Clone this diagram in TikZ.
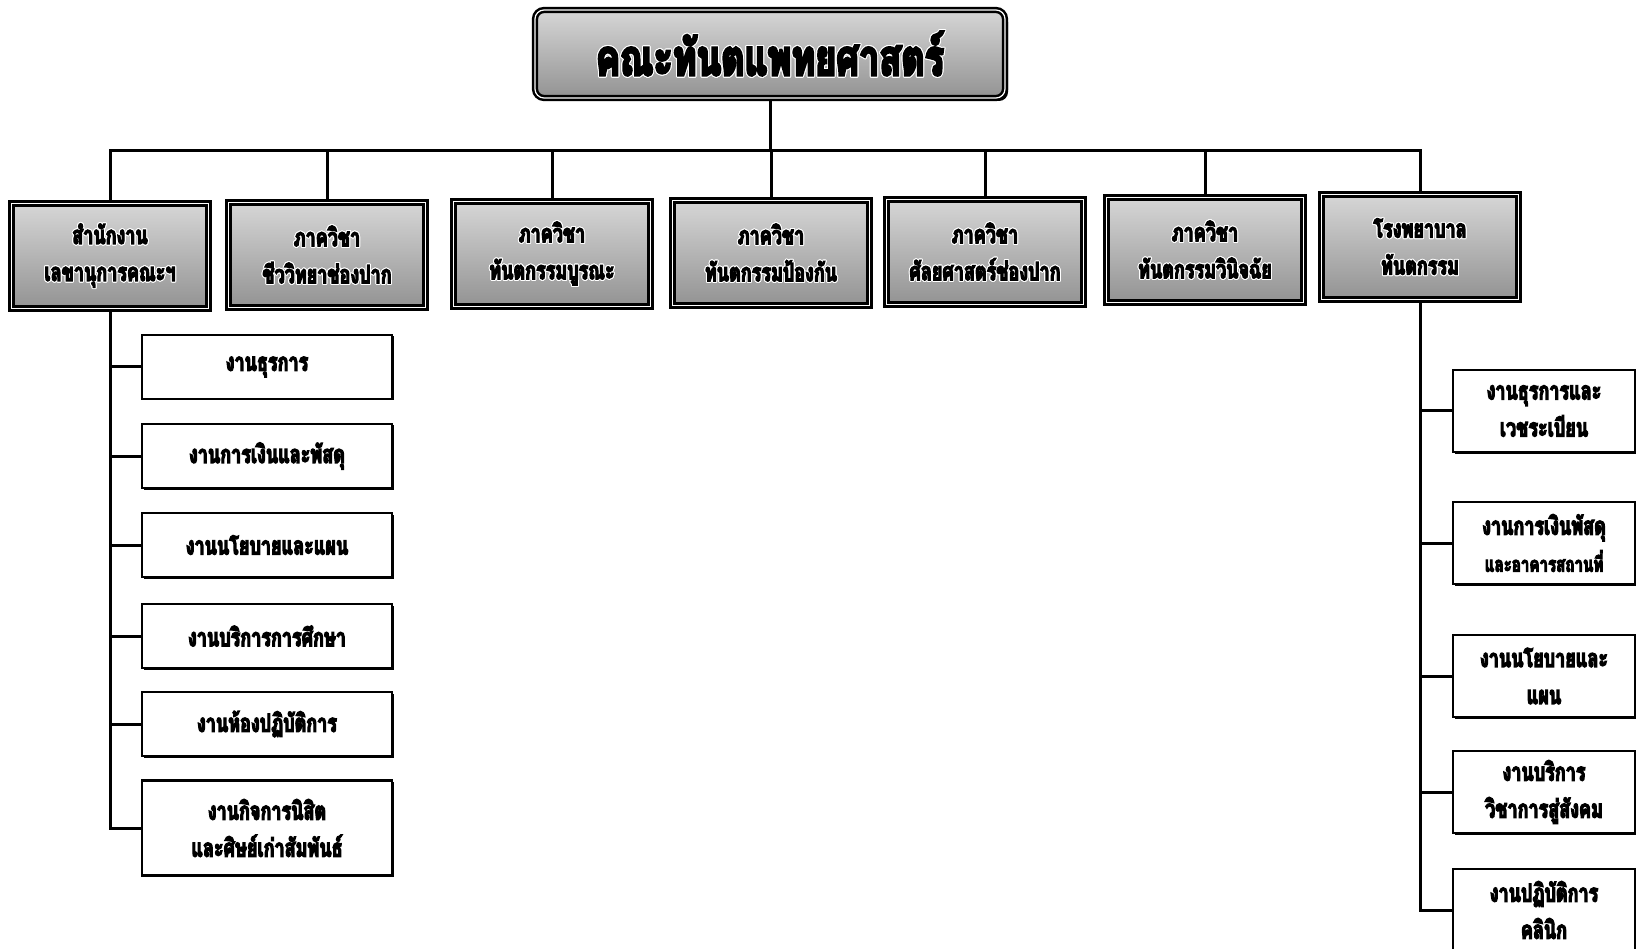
\documentclass[tikz,border=0pt]{standalone}
\usepackage{fontspec}
\newfontfamily\thai[Script=Thai,FakeStretch=0.72,FakeBold=5]{Loma Bold}
\usepackage[copies]{contour}
\contourlength{1pt}
\newcommand{\halo}[1]{\contour{white}{#1}}
\usetikzlibrary{shadows}
\begin{document}
\begin{tikzpicture}[x=1pt,y=-1pt,
  conn/.style={line width=3pt, draw=black},
  headbox/.style={rectangle, draw=black, line width=2.5pt, double=white, double distance=1.2pt,
    top color=gray!32, bottom color=gray!85, align=center, inner sep=0pt,
    drop shadow={shadow xshift=3pt, shadow yshift=-3pt, fill=black, opacity=1}},
  titlebox/.style={headbox, rounded corners=9pt, minimum width=470pt, minimum height=88pt,
    font=\thai\fontsize{50}{56}\selectfont},
  deptbox/.style={headbox, minimum width=197pt, minimum height=105pt,
    font=\thai\fontsize{25}{37}\selectfont},
  subbox/.style={rectangle, draw=black, line width=2.4pt, fill=white, align=center, inner sep=0pt,
    drop shadow={shadow xshift=1.5pt, shadow yshift=-1.5pt, fill=black, opacity=1},
    font=\thai\fontsize{25}{37}\selectfont},
  leftbox/.style={subbox, minimum width=250pt, minimum height=64pt},
  rightbox/.style={subbox, minimum width=182pt, minimum height=82pt}
]
\useasboundingbox (0,0) rectangle (1636,949);
\clip (0,0) rectangle (1636,949);

% top
\node[titlebox] (top) at (770,54) {\halo{คณะทันตแพทยศาสตร์}};

% departments
\node[deptbox] (b1) at (110,256) {\halo{สำนักงาน}\\\halo{เลขานุการคณะฯ}};
\node[deptbox] (b2) at (327,255) {\halo{ภาควิชา}\\\halo{ชีววิทยาช่องปาก}};
\node[deptbox] (b3) at (552,254) {\halo{ภาควิชา}\\\halo{ทันตกรรมบูรณะ}};
\node[deptbox] (b4) at (771,253) {\halo{ภาควิชา}\\\halo{ทันตกรรมป้องกัน}};
\node[deptbox] (b5) at (985,252) {\halo{ภาควิชา}\\\halo{ศัลยศาสตร์ช่องปาก}};
\node[deptbox] (b6) at (1205,250) {\halo{ภาควิชา}\\\halo{ทันตกรรมวินิจฉัย}};
\node[deptbox] (b7) at (1420,247) {\halo{โรงพยาบาล}\\\halo{ทันตกรรม}};

% left sub units
\node[leftbox] (l1) at (267,367) {งานธุรการ};
\node[leftbox] (l2) at (267,456) {งานการเงินและพัสดุ};
\node[leftbox] (l3) at (267,545) {งานนโยบายและแผน};
\node[leftbox] (l4) at (267,636) {งานบริการการศึกษา};
\node[leftbox] (l5) at (267,724) {งานห้องปฏิบัติการ};
\node[leftbox, minimum height=95pt] (l6) at (267,828) {งานกิจการนิสิต\\และศิษย์เก่าสัมพันธ์};

% right sub units
\node[rightbox] (r1) at (1544,411) {งานธุรการและ\\เวชระเบียน};
\node[rightbox] (r2) at (1544,543) {งานการเงินพัสดุ\\{\fontsize{21}{37}\selectfont และอาคารสถานที่}};
\node[rightbox] (r3) at (1544,676) {งานนโยบายและ\\แผน};
\node[rightbox] (r4) at (1544,792) {งานบริการ\\วิชาการสู่สังคม};
\node[rightbox] (r5) at (1544,910) {งานปฏิบัติการ\\คลินิก};

% connectors
\coordinate (bus) at (0,151);
\draw[conn] (top.south) -- (top.south |- bus);
\draw[conn] (b1.north) -- (b1.north |- bus) -- (b7.north |- bus) -- (b7.north);
\foreach \b in {b2,b3,b4,b5,b6} \draw[conn] (\b.north) -- (\b.north |- bus);

\draw[conn] (b1.south) |- (l6.west);
\foreach \n in {l1,l2,l3,l4,l5} \draw[conn] (\n.west) -- (\n.west -| b1.south);

\draw[conn] (b7.south) |- (r5.west);
\foreach \n in {r1,r2,r3,r4} \draw[conn] (\n.west) -- (\n.west -| b7.south);
\end{tikzpicture}
\end{document}
